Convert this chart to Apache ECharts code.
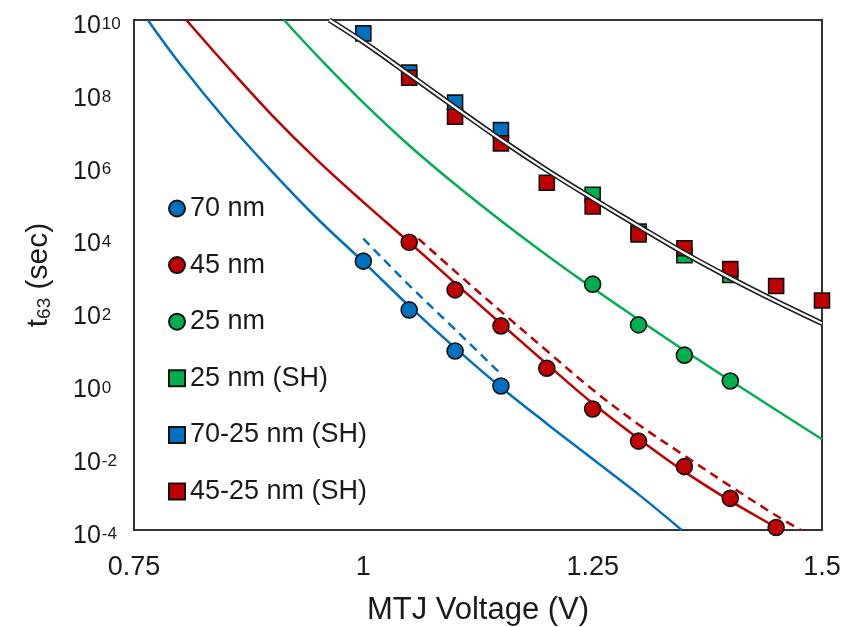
<!DOCTYPE html>
<html><head><meta charset="utf-8">
<script src="https://cdn.jsdelivr.net/npm/echarts@6/dist/echarts.min.js"></script>
<style>html,body{margin:0;padding:0;background:#fff}#c{width:846px;height:627px}</style>
</head><body><div id="c"></div><script>
// ---- data (MTJ voltage in V, t63 in seconds) ----
const xTicks = [0.75, 1, 1.25, 1.5];
const yTickExps = [-4, -2, 0, 2, 4, 6, 8, 10];

const c70V = [1.0, 1.05, 1.1, 1.15];
const c70T = [2.4e3, 1.1e2, 8.2, 0.9];
const c45V = [1.05, 1.1, 1.15, 1.2, 1.25, 1.3, 1.35, 1.4, 1.45];
const c45T = [7.9e3, 3.9e2, 40, 2.75, 0.21, 0.0275, 0.0055, 7.4e-4, 1.17e-4];
const c25V = [1.25, 1.3, 1.35, 1.4];
const c25T = [5.6e2, 42.7, 6.3, 1.23];

const s25V = [1.25, 1.3, 1.35, 1.4];
const s25T = [1.6e5, 1.55e4, 3.5e3, 1.0e3];
const s7025V = [1.0, 1.05, 1.1, 1.15];
const s7025T = [4.3e9, 3.6e8, 5.4e7, 9.5e6];
const s4525V = [1.05, 1.1, 1.15, 1.2, 1.25, 1.3, 1.35, 1.4, 1.45, 1.5];
const s4525T = [2.6e8, 2.2e7, 4.1e6, 3.4e5, 7.6e4, 1.3e4, 5.4e3, 1.45e3, 5.0e2, 2.0e2];

const fit70V = [0.765, 0.8, 0.85, 0.9, 0.95, 1.0, 1.05, 1.1, 1.15, 1.2, 1.25, 1.3, 1.347];
const fit70T = [1e10, 6.3e8, 1.8e7, 7.1e5, 3.5e4, 2.3e3, 1.4e2, 10, 0.83, 0.083, 8.9e-3, 9.5e-4, 1e-4];
const fit45V = [0.807, 0.85, 0.9, 0.95, 1.0, 1.05, 1.1, 1.15, 1.2, 1.25, 1.3, 1.35, 1.4, 1.45, 1.454];
const fit45T = [1e10, 5.9e8, 2.5e7, 1.4e6, 1e5, 7.9e3, 6.0e2, 46, 3.6, 0.30, 0.032, 4.0e-3, 6.3e-4, 1.17e-4, 1e-4];
const fit25V = [0.9135, 0.95, 1.0, 1.05, 1.1, 1.15, 1.2, 1.25, 1.3, 1.35, 1.4, 1.45, 1.5];
const fit25T = [1e10, 1.02e9, 5.4e7, 3.6e6, 3.1e5, 3.1e4, 3.5e3, 4.4e2, 60, 8.5, 1.27, 0.197, 0.031];
const fitSHV = [0.963, 1.0, 1.05, 1.1, 1.15, 1.2, 1.25, 1.3, 1.35, 1.4, 1.45, 1.5];
const fitSHT = [1e10, 2.5e9, 3.2e8, 4.0e7, 5.2e6, 7.6e5, 1.26e5, 2.2e4, 4.0e3, 8.3e2, 1.9e2, 47];
const dash70V = [1.0, 1.05, 1.1, 1.15];
const dash70T = [1e4, 5.2e2, 32, 1.9];
const dash45V = [1.06, 1.1, 1.15, 1.2, 1.25, 1.3, 1.35, 1.4, 1.45, 1.477];
const dash45T = [1e4, 1.26e3, 1e2, 8.3, 0.71, 0.079, 0.011, 1.6e-3, 2.5e-4, 1e-4];

const legendNames = ['70 nm', '45 nm', '25 nm', '25 nm (SH)', '70-25 nm (SH)', '45-25 nm (SH)'];

// ---- helpers ----
const zip = (a, b) => a.map((v, i) => [v, b[i]]);
const BLUE = '#0070C0', RED = '#C00000', GREEN = '#00B050';
const FONT = 'Liberation Sans, Arial, sans-serif';
const TXT = '#1a1a1a';

function scatter(name, v, t, color, symbol, size) {
  return {
    name, type: 'scatter', data: zip(v, t), symbol, symbolSize: size,
    itemStyle: { color, borderColor: '#111', borderWidth: 1.6, opacity: 1 },
    emphasis: { disabled: true }, z: 3
  };
}
function fit(v, t, color, width, dashed, z) {
  return {
    type: 'line', data: zip(v, t), smooth: 0.35, showSymbol: false, symbol: 'none',
    lineStyle: { color, width, type: dashed ? [9, 6] : 'solid' },
    emphasis: { disabled: true }, z: z || 2, silent: true
  };
}

const chart = echarts.init(document.getElementById('c'), null, { renderer: 'canvas' });
chart.setOption({
  backgroundColor: '#fff',
  animation: false,
  textStyle: { fontFamily: FONT, color: TXT },
  grid: { left: 134, top: 20, right: 24, bottom: 97, containLabel: false, outerBoundsMode: 'none',
          show: true, borderColor: '#333', borderWidth: 2, backgroundColor: 'transparent' },
  legend: {
    data: legendNames,
    orient: 'vertical', left: 168, top: 195, padding: 0,
    itemWidth: 16, itemHeight: 16, itemGap: 29.6,
    textStyle: { fontSize: 27, color: TXT, fontFamily: FONT },
    selectedMode: false
  },
  xAxis: {
    type: 'value', min: xTicks[0], max: xTicks[xTicks.length - 1], interval: 0.25,
    name: 'MTJ Voltage (V)', nameLocation: 'middle', nameGap: 65,
    nameTextStyle: { fontSize: 31, color: TXT, fontFamily: FONT },
    axisLine: { show: false }, axisTick: { show: false }, splitLine: { show: false },
    axisLabel: { fontSize: 27, color: TXT, margin: 24, fontFamily: FONT,
      formatter: v => String(+v.toFixed(2)) }
  },
  yAxis: {
    type: 'log', logBase: 10, min: Math.pow(10, yTickExps[0]), max: Math.pow(10, yTickExps[yTickExps.length - 1]), interval: 2,
    name: '{t|t}{sub|63}{t| (sec)}', nameLocation: 'middle', nameGap: 80, nameRotate: 90,
    nameTextStyle: { fontFamily: FONT, color: TXT,
      rich: { t: { fontSize: 30, fontFamily: FONT, color: TXT },
              sub: { fontSize: 19, fontFamily: FONT, color: TXT, padding: [12, 0, 0, 0] } } },
    axisLine: { show: false }, axisTick: { show: false }, splitLine: { show: false }, minorTick: { show: false },
    axisLabel: {
      margin: 61, align: 'left',
      formatter: v => '{b|10}{s|' + Math.round(Math.log10(v)) + '}',
      rich: {
        b: { fontSize: 25, lineHeight: 25, padding: [12, 0, 0, 0], fontFamily: FONT, color: TXT },
        s: { fontSize: 17, lineHeight: 17, padding: [8, 0, 0, 1], verticalAlign: 'top', fontFamily: FONT, color: TXT }
      }
    }
  },
  series: [
    scatter('25 nm (SH)', s25V, s25T, GREEN, 'rect', 15),
    scatter('70-25 nm (SH)', s7025V, s7025T, BLUE, 'rect', 15),
    scatter('45-25 nm (SH)', s4525V, s4525T, RED, 'rect', 15),
    fit(fitSHV, fitSHT, '#222', 5.5, false, 4),
    fit(fitSHV, fitSHT, '#fff', 2.2, false, 4),
    fit(fit70V, fit70T, BLUE, 2.5, false, 4),
    fit(fit45V, fit45T, RED, 2.5, false, 4),
    fit(fit25V, fit25T, GREEN, 2.5, false, 4),
    fit(dash70V, dash70T, BLUE, 2.5, true, 4),
    fit(dash45V, dash45T, RED, 2.5, true, 4),
    Object.assign(scatter('70 nm', c70V, c70T, BLUE, 'circle', 16), { z: 5 }),
    Object.assign(scatter('45 nm', c45V, c45T, RED, 'circle', 16), { z: 5 }),
    Object.assign(scatter('25 nm', c25V, c25T, GREEN, 'circle', 16), { z: 5 })
  ]
});
</script></body></html>
